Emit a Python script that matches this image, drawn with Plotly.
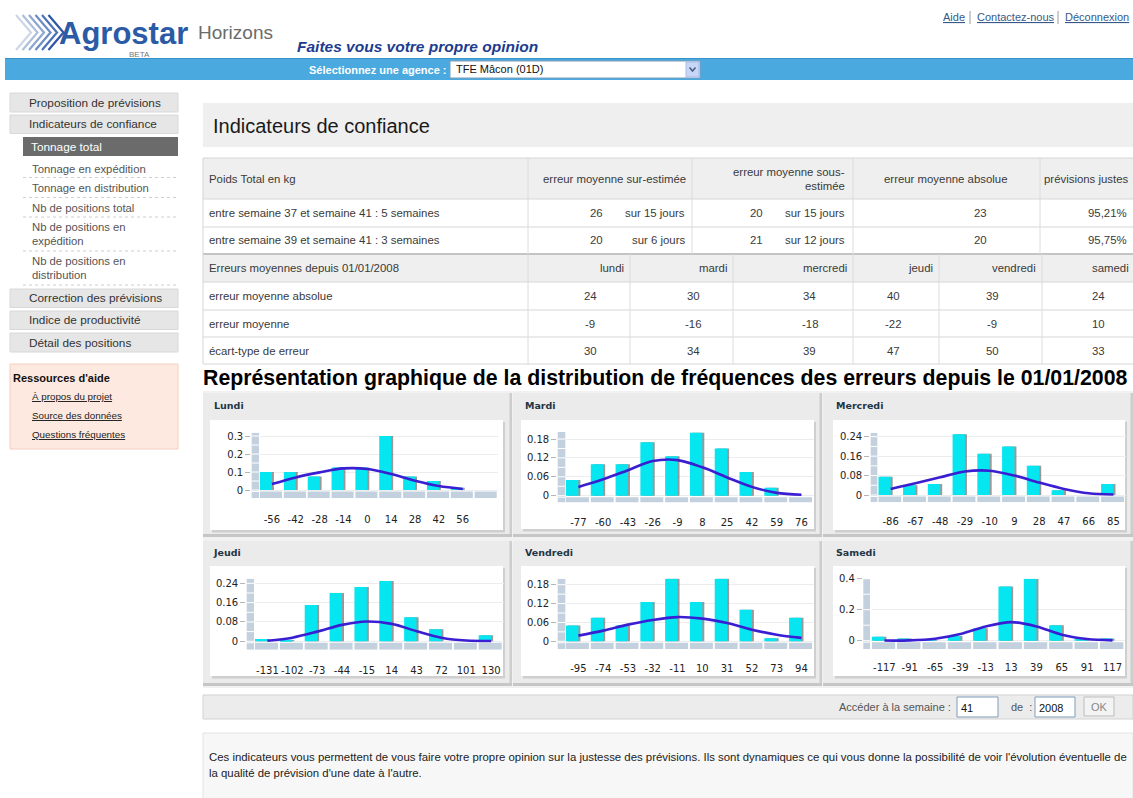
import plotly.graph_objects as go

# ---------------- data ----------------
top_links = ["Aide", "Contactez-nous", "Déconnexion"]
agency_label = "Sélectionnez une agence :"
agency_value = "TFE Mâcon (01D)"
slogan = "Faites vous votre propre opinion"

menu_top = ["Proposition de prévisions", "Indicateurs de confiance"]
menu_active = "Tonnage total"
menu_sub = [["Tonnage en expédition"], ["Tonnage en distribution"], ["Nb de positions total"],
            ["Nb de positions en", "expédition"], ["Nb de positions en", "distribution"]]
menu_bottom = ["Correction des prévisions", "Indice de productivité", "Détail des positions"]
help_title = "Ressources d'aide"
help_links = ["À propos du projet", "Source des données", "Questions fréquentes"]

page_title = "Indicateurs de confiance"
summary_headers = ["Poids Total en kg", "erreur moyenne sur-estimée", "erreur moyenne sous-",
                   "estimée", "erreur moyenne absolue", "prévisions justes"]
periods = ["entre semaine 37 et semaine 41 : 5 semaines", "entre semaine 39 et semaine 41 : 3 semaines"]
over_est = [26, 20]
over_days = [15, 6]
under_est = [20, 21]
under_days = [15, 12]
abs_err = [23, 20]
correct = ["95,21%", "95,75%"]

stats_header = "Erreurs moyennes depuis 01/01/2008"
days_lower = ["lundi", "mardi", "mercredi", "jeudi", "vendredi", "samedi"]
stat_rows = ["erreur moyenne absolue", "erreur moyenne", "écart-type de erreur"]
mean_abs_err = [24, 30, 34, 40, 39, 24]
mean_err = [-9, -16, -18, -22, -9, 10]
std_err = [30, 34, 39, 47, 50, 33]

section_title = "Représentation graphique de la distribution de fréquences des erreurs depuis le 01/01/2008"
chart_titles = ["Lundi", "Mardi", "Mercredi", "Jeudi", "Vendredi", "Samedi"]

lundi_bins = ["-56", "-42", "-28", "-14", "0", "14", "28", "42", "56", ""]
lundi_freq = [0.10, 0.10, 0.075, 0.125, 0.125, 0.30, 0.075, 0.05, 0.013, None]
lundi_fit = [0.033, 0.07, 0.098, 0.12, 0.117, 0.089, 0.052, 0.022, 0.006, None]
lundi_yticks = [0, 0.1, 0.2, 0.3]

mardi_bins = ["-77", "-60", "-43", "-26", "-9", "8", "25", "42", "59", "76"]
mardi_freq = [0.05, 0.10, 0.10, 0.17, 0.125, 0.20, 0.15, 0.075, 0.025, 0.0]
mardi_fit = [0.028, 0.052, 0.081, 0.11, 0.113, 0.09, 0.058, 0.028, 0.009, 0.003]
mardi_yticks = [0, 0.06, 0.12, 0.18]

mercredi_bins = ["-86", "-67", "-48", "-29", "-10", "9", "28", "47", "66", "85"]
mercredi_freq = [0.075, 0.04, 0.045, 0.25, 0.17, 0.20, 0.12, 0.02, 0.0, 0.045]
mercredi_fit = [0.025, 0.048, 0.073, 0.097, 0.10, 0.08, 0.051, 0.025, 0.007, 0.002]
mercredi_yticks = [0, 0.08, 0.16, 0.24]

jeudi_bins = ["-131", "-102", "-73", "-44", "-15", "14", "43", "72", "101", "130"]
jeudi_freq = [0.01, 0.005, 0.15, 0.20, 0.225, 0.25, 0.10, 0.05, 0.0, 0.025]
jeudi_fit = [0.002, 0.015, 0.04, 0.068, 0.082, 0.072, 0.042, 0.015, 0.003, 0.001]
jeudi_yticks = [0, 0.08, 0.16, 0.24]

vendredi_bins = ["-95", "-74", "-53", "-32", "-11", "10", "31", "52", "73", "94"]
vendredi_freq = [0.05, 0.075, 0.05, 0.125, 0.20, 0.125, 0.20, 0.10, 0.01, 0.075]
vendredi_fit = [0.018, 0.034, 0.053, 0.068, 0.077, 0.072, 0.058, 0.037, 0.021, 0.011]
vendredi_yticks = [0, 0.06, 0.12, 0.18]

samedi_bins = ["-117", "-91", "-65", "-39", "-13", "13", "39", "65", "91", "117"]
samedi_freq = [0.025, 0.015, 0.006, 0.03, 0.08, 0.35, 0.40, 0.10, 0.01, 0.015]
samedi_fit = [0.001, 0.002, 0.013, 0.043, 0.092, 0.12, 0.092, 0.039, 0.011, 0.002]
samedi_yticks = [0, 0.2, 0.4]

week_label = "Accéder à la semaine :"
week_value = "41"
year_value = "2008"
footer_lines = ["Ces indicateurs vous permettent de vous faire votre propre opinion sur la justesse des prévisions. "
                "Ils sont dynamiques ce qui vous donne la possibilité de voir l'évolution éventuelle de",
                "la qualité de prévision d'une date à l'autre."]

# ---------------- helpers ----------------
W, H = 1133, 798
SANS = "Liberation Sans, Arial, Helvetica, sans-serif"
VERD = "DejaVu Sans, Verdana, sans-serif"
shapes, annotations = [], []


def box(x0, y0, x1, y1, fill, line=None, lw=1):
    shapes.append(dict(type="rect", xref="paper", yref="paper", x0=x0 / W, x1=x1 / W,
                       y0=1 - y1 / H, y1=1 - y0 / H, fillcolor=fill,
                       line=dict(color=line if line else "rgba(0,0,0,0)", width=lw if line else 0),
                       layer="below"))


def seg(x0, y0, x1, y1, color, w=1, dash="solid"):
    shapes.append(dict(type="line", xref="paper", yref="paper", x0=x0 / W, x1=x1 / W,
                       y0=1 - y0 / H, y1=1 - y1 / H, line=dict(color=color, width=w, dash=dash),
                       layer="below"))


def txt(x, y, s, size=11, color="#333", anchor="left", family=SANS):
    annotations.append(dict(xref="paper", yref="paper", x=x / W, y=1 - y / H, text=s,
                            showarrow=False, xanchor=anchor, yanchor="middle", borderpad=0,
                            font=dict(size=size, color=color, family=family)))


# ---------------- header ----------------
logo_cols = ["#cdd6e6", "#aebfdc", "#8ea6d1", "#6d8cc4", "#4c72b6", "#2d57a4"]
for k, c in enumerate(logo_cols):
    xo = 16 + k * 6.5
    shapes.append(dict(type="path", xref="paper", yref="paper",
                       path="M %f,%f L %f,%f L %f,%f" % (xo / W, 1 - 15 / H, (xo + 15) / W, 1 - 32.5 / H, xo / W, 1 - 50 / H),
                       line=dict(color=c, width=2.2)))
txt(58, 34, "<b>Agrostar</b>", 31, "#2c5ba6")
txt(197, 33, "Horizons", 19, "#6b6b6b")
txt(139, 54, "BETA", 8, "#777", anchor="center")
txt(296, 46, "<b><i>" + slogan + "</i></b>", 15.5, "#1d3c8f")

link_x = [942, 976, 1064]
for i, (lx, lab) in enumerate(zip(link_x, top_links)):
    txt(lx, 17, "<u>" + lab + "</u>", 11, "#36598a")
    if i < len(top_links) - 1:
        seg(link_x[i + 1] - 6, 11, link_x[i + 1] - 6, 24, "#9a9a9a")

box(5, 58, 1133, 80, "#4aa9de")
seg(5, 58.5, 1133, 58.5, "#3a91c6", 1)
txt(448, 70, "<b>" + agency_label + "</b>", 11, "white", anchor="right")
box(450, 61, 700, 78, "white", "#7f9db9")
txt(455, 69.5, agency_value, 11, "#111")
box(686, 62, 699, 77, "#c8d6f7", "#a9bbe6")
shapes.append(dict(type="path", xref="paper", yref="paper",
                   path="M %f,%f L %f,%f L %f,%f" % (689.5 / W, 1 - 67.5 / H, 692.5 / W, 1 - 71 / H, 695.5 / W, 1 - 67.5 / H),
                   line=dict(color="#4d6185", width=1.6)))

# ---------------- sidebar ----------------
top_boxes = [(93, 112), (115, 133.5)]
for (y0, y1), lab in zip(top_boxes, menu_top):
    box(10, y0, 178, y1, "#e6e6e6", "#d8d8d8")
    txt(28, (y0 + y1) / 2, lab, 11.8, "#333")
box(23, 137, 178, 156, "#6b6b6b")
txt(30, 146.5, menu_active, 11.8, "white")
sub_y = [[169], [188], [207.5], [227, 241.5], [260.5, 275]]
sep_y = [177.5, 197.5, 217, 251, 285]
for lines, ys, sy in zip(menu_sub, sub_y, sep_y):
    for lab, yy in zip(lines, ys):
        txt(31, yy, lab, 11.3, "#555")
    seg(23, sy, 178, sy, "#cfcfcf", 1, "dot")
bot_boxes = [(289, 307.5), (311, 329.5), (333, 352)]
for (y0, y1), lab in zip(bot_boxes, menu_bottom):
    box(10, y0, 178, y1, "#e6e6e6", "#d8d8d8")
    txt(28, (y0 + y1) / 2, lab, 11.8, "#333")
box(10, 364, 178, 449, "#fde9df", "#f3cfbf")
txt(12, 378, "<b>" + help_title + "</b>", 11, "#111")
for lab, yy in zip(help_links, [396, 415, 434.5]):
    txt(31, yy, "<u>" + lab + "</u>", 9.8, "#222")

# ---------------- title + table ----------------
box(203, 103, 1133, 147, "#efefef")
txt(212, 126, page_title, 20, "#1a1a1a")

rows = [158, 199, 227, 254, 282, 310, 337, 364]
box(203, 158, 1133, 199, "#efefef")
box(203, 254, 1133, 282, "#efefef")
for r in rows:
    seg(203, r, 1133, r, "#d6d6d6", 1)
seg(203, 254, 1133, 254, "#c4c4c4", 2)
seg(203, 158, 203, 364, "#d6d6d6")
for vx in [528, 692, 853, 1040]:
    seg(vx, 158, vx, 254, "#dcdcdc")
for vx in [528, 630, 733, 853, 939, 1042]:
    seg(vx, 254, vx, 364, "#dcdcdc")

TC = "#3a3a3a"
FS = 11.4
txt(208, 178.5, summary_headers[0], FS, TC)
txt(614, 178.5, summary_headers[1], FS, TC, anchor="center")
txt(846, 171.5, summary_headers[2], FS, TC, anchor="right")
txt(846, 186, summary_headers[3], FS, TC, anchor="right")
txt(945, 178.5, summary_headers[4], FS, TC, anchor="center")
txt(1130, 178.5, summary_headers[5], FS, TC, anchor="right")
for yy, per, oe, od, ue, ud, ae, cp in zip([213, 240.5], periods, over_est, over_days,
                                            under_est, under_days, abs_err, correct):
    txt(208, yy, per, FS, TC)
    txt(596, yy, str(oe), FS, TC, anchor="center")
    txt(686, yy, "sur %d jours" % od, FS, TC, anchor="right")
    txt(756, yy, str(ue), FS, TC, anchor="center")
    txt(846, yy, "sur %d jours" % ud, FS, TC, anchor="right")
    txt(980, yy, str(ae), FS, TC, anchor="center")
    txt(1128, yy, cp, FS, TC, anchor="right")

txt(208, 268, stats_header, FS, TC)
day_right = [625, 728, 848, 934, 1037, 1130]
for dx, d in zip(day_right, days_lower):
    txt(dx, 268, d, FS, TC, anchor="right")
val_x = [590, 693, 810, 893, 992, 1098]
for yy, lab, vals in zip([296, 323.5, 350.5], stat_rows, [mean_abs_err, mean_err, std_err]):
    txt(208, yy, lab, FS, TC)
    for vx, v in zip(val_x, vals):
        txt(vx, yy, str(v), FS, TC, anchor="center")

txt(202, 378, "<b>" + section_title + "</b>", 21.3, "#000")

# ---------------- chart panels ----------------
box(203, 391, 1133, 688, "#f1f1f1")
panel_cols = [(203, 512), (513, 822), (823, 1133)]
panel_rows = [(393, 537), (541, 686)]
for (py0, py1) in panel_rows:
    for (px0, px1) in panel_cols:
        box(px0, py0, px1, py1, "#ebebeb")
        box(px1 - 2.5, py0, px1, py1, "#cdcdcd")
        box(px0, py1 - 3, px1, py1, "#c6c6c6")

white_boxes = [(210, 420, 503, 530), (521, 420, 814, 529), (833, 420, 1125, 530),
               (210, 566, 503, 676), (521, 566, 814, 676), (833, 566, 1125, 676)]
for (x0, y0, x1, y1) in white_boxes:
    box(x0 + 2, y0 + 2, x1 + 2, y1 + 2.5, "#cfcfcf")
    box(x0, y0, x1, y1, "white")

title_pos = [(213, 405.7), (523.7, 405.7), (835, 405.7), (212.3, 552), (523.7, 552), (835, 552)]
for (tx, ty), t in zip(title_pos, chart_titles):
    txt(tx, ty, "<b>" + t + "</b>", 9.5, "#1f3545", family=VERD)

# geometry per chart: col_l, col_r, blk_l, blk_r, zero_px, ref_val, ref_px, top_px, floor_px, label_y
geom = [
    (251.7, 259.0, 260.0, 496.7, 490.0, 0.30, 436.0, 432.7, 498.3, 518.0),
    (557.7, 565.3, 566.0, 812.0, 495.7, 0.18, 439.0, 432.0, 502.5, 520.7),
    (870.7, 877.3, 878.3, 1124.0, 495.0, 0.24, 436.7, 432.7, 502.3, 520.7),
    (246.7, 254.0, 255.0, 501.7, 641.3, 0.24, 583.3, 578.7, 649.7, 668.7),
    (557.7, 565.3, 566.0, 812.0, 641.3, 0.18, 584.7, 578.7, 649.0, 667.3),
    (863.3, 870.0, 871.7, 1123.3, 640.7, 0.40, 578.7, 578.7, 649.0, 666.3),
]
series = [
    (lundi_bins, lundi_freq, lundi_fit, lundi_yticks),
    (mardi_bins, mardi_freq, mardi_fit, mardi_yticks),
    (mercredi_bins, mercredi_freq, mercredi_fit, mercredi_yticks),
    (jeudi_bins, jeudi_freq, jeudi_fit, jeudi_yticks),
    (vendredi_bins, vendredi_freq, vendredi_fit, vendredi_yticks),
    (samedi_bins, samedi_freq, samedi_fit, samedi_yticks),
]

FLOOR = "#c3d0dd"
BAR = "#05e6f0"
LINE = "#3a1fd2"
GAP = 0.075

fig = go.Figure()
axes_layout = {}
for i, ((bins, freq, fit, yt), g) in enumerate(zip(series, geom)):
    n = "" if i == 0 else str(i + 1)
    col_l, col_r, blk_l, blk_r, zero_px, ref_val, ref_px, top_px, floor_px, label_y = g
    ncat = len(bins)
    cw = (blk_r - blk_l) / (ncat - GAP)
    dom_r = blk_l + ncat * cw
    vpp = ref_val / (zero_px - ref_px)
    ymin = -(floor_px - zero_px) * vpp
    ymax = (zero_px - top_px) * vpp
    xs = list(range(ncat))
    shadow = 2.0 / cw

    fig.add_trace(go.Bar(x=xs, y=freq, xaxis="x" + n, yaxis="y" + n, offset=-0.5 + shadow, width=0.5,
                         marker=dict(color="rgba(70,70,70,0.55)", line=dict(width=0)), hoverinfo="skip"))
    fig.add_trace(go.Bar(x=xs, y=freq, xaxis="x" + n, yaxis="y" + n, offset=-0.5, width=0.5,
                         marker=dict(color=BAR, line=dict(width=0)), name=chart_titles[i]))
    fig.add_trace(go.Scatter(x=xs, y=fit, xaxis="x" + n, yaxis="y" + n, mode="lines",
                             line=dict(color=LINE, width=2.6, shape="spline", smoothing=0.9),
                             connectgaps=False, name=chart_titles[i] + " loi normale"))

    axes_layout["xaxis" + n] = dict(domain=[blk_l / W, dom_r / W], range=[-0.5, ncat - 0.5],
                                    anchor="y" + n, tickvals=xs, ticktext=bins, tickangle=0,
                                    ticks="", showgrid=False, zeroline=False, showline=False,
                                    ticklabelstandoff=int(round(max(0, label_y - floor_px - 6))),
                                    tickfont=dict(family=VERD, size=10, color="#222"), fixedrange=True)
    axes_layout["yaxis" + n] = dict(domain=[1 - floor_px / H, 1 - top_px / H], range=[ymin, ymax],
                                    anchor="free", position=(col_l - 1.5) / W,
                                    tickvals=yt, ticktext=["%g" % v for v in yt],
                                    ticks="outside", ticklen=5, tickcolor="#b5b5b5",
                                    showgrid=True, gridcolor="#ededed", gridwidth=1,
                                    zeroline=False, showline=False,
                                    tickfont=dict(family=VERD, size=10, color="#222"), fixedrange=True)

    # 3D floor blocks
    for k in xs:
        shapes.append(dict(type="rect", xref="x" + n, yref="y" + n, x0=k - 0.5, x1=k + 0.5 - GAP,
                           y0=ymin, y1=-1.5 * vpp, fillcolor=FLOOR, line=dict(width=0), layer="below"))
    # 3D wall column
    shapes.append(dict(type="rect", xref="paper", yref="y" + n, x0=col_l / W, x1=col_r / W,
                       y0=ymin, y1=ymax, fillcolor=FLOOR, line=dict(width=0), layer="below"))
    step = yt[1] / 2.0
    k = 0
    while k * step <= ymax + 1e-9:
        shapes.append(dict(type="line", xref="paper", yref="y" + n, x0=col_l / W, x1=col_r / W,
                           y0=k * step, y1=k * step, line=dict(color="white", width=1), layer="below"))
        k += 1
    shapes.append(dict(type="line", xref="paper", yref="y" + n, x0=col_l / W, x1=col_r / W,
                       y0=-1.5 * vpp, y1=-1.5 * vpp, line=dict(color="white", width=1), layer="below"))

# ---------------- bottom controls ----------------
box(203, 695, 1133, 719, "#ececec", "#d2d2d2")
txt(952, 707, week_label, 11, "#555", anchor="right")
box(957, 697, 998, 717, "white", "#7f9db9")
txt(960, 707.5, week_value, 11, "#111")
txt(1010, 707, "de &nbsp;:", 11, "#555")
box(1035, 697, 1075, 717, "white", "#7f9db9")
txt(1038, 707.5, year_value, 11, "#111")
box(1084, 697, 1114, 716, "#f3f3f3", "#bdbdbd")
txt(1099, 706.5, "OK", 11, "#888", anchor="center")

box(203, 733, 1133, 800, "#f7f7f7", "#e4e4e4")
txt(208, 757, footer_lines[0], 11.4, "#222")
txt(208, 773, footer_lines[1], 11.4, "#222")

fig.update_layout(
    width=W, height=H, margin=dict(l=0, r=0, t=0, b=0, autoexpand=False),
    paper_bgcolor="white", plot_bgcolor="rgba(0,0,0,0)",
    showlegend=False, barmode="overlay",
    shapes=shapes, annotations=annotations, **axes_layout
)
fig.write_html("out.html", config={"displayModeBar": False},
               post_script="document.body.style.margin='0';document.body.style.padding='0';"
                           "document.body.style.overflow='hidden';")
